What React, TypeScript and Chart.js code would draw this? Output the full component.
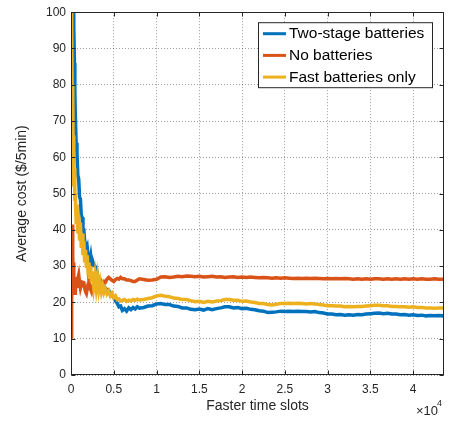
import React, { useEffect, useRef } from "react";
import { Chart, registerables } from "chart.js";

Chart.register(...registerables);

// Faster time slots (x values)
const slots = [
  0, 50, 100, 150, 200, 250, 300, 350, 400, 450,
  500, 600, 700, 800, 900, 1000, 1100, 1200, 1300, 1400, 1500, 1600, 1700, 1800, 1900, 2000, 2100, 2200, 2300, 2400, 2500,
  2650, 2800, 2950, 3100, 3250, 3400, 3550, 3700, 3850,
  4000, 4200, 4400, 4600, 4800, 5000, 5200, 5400, 5600, 5800, 6000,
  6250, 6500, 6750, 7000, 7250, 7500, 7750, 8000,
  8500, 9000, 9500, 10000, 10500, 11000, 11500, 12000, 12500, 13000,
  13500, 14000, 14500, 15000, 15500, 16000, 16500, 17000, 17500, 18000,
  18500, 19000, 19500, 20000, 20500, 21000, 21500, 22000, 22500, 23000,
  23500, 24000, 24500, 25000, 25500, 26000, 26500, 27000, 27500, 28000,
  28500, 29000, 29500, 30000, 30500, 31000, 31500, 32000, 32500, 33000,
  33500, 34000, 34500, 35000, 35500, 36000, 36500, 37000, 37500, 38000,
  38500, 39000, 39500, 40000, 40500, 41000, 41500, 42000, 42500, 43000,
  43500, 43600,
];

const twoStage = [
  175, 165, 150, 138, 125, 113, 104, 96, 86, 78,
  72, 64, 61, 55, 54, 49, 48.5, 44, 43.5, 40, 40, 36.8, 36.5, 34.2, 35, 32.5, 33.8, 31.5, 32.8, 30.6, 31.6,
  30.5, 30, 29.5, 27.5, 26, 26.3, 25.2, 24.8, 24.2,
  24, 23.5, 23.4, 22.6, 22, 21.3, 20.4, 19.8, 18.8, 19.0, 17.8,
  18.3, 17.6, 18.5, 18.0, 18.6, 18.2, 18.8, 18.4,
  18.6, 19.0, 19.1, 19.6, 19.7, 19.4, 19.4, 19.0, 18.9, 18.5,
  18.5, 18.1, 18.0, 18.2, 17.9, 18.3, 18.0, 18.3, 18.5, 18.8,
  18.8, 18.5, 18.6, 18.3, 18.4, 18.1, 18.0, 17.7, 17.6, 17.2,
  17.3, 17.4, 17.6, 17.5, 17.6, 17.5, 17.6, 17.5, 17.5, 17.4,
  17.5, 17.2, 17.1, 16.8, 16.8, 16.6, 16.7, 16.5, 16.6, 16.5,
  16.7, 16.6, 16.8, 16.9, 17.0, 17.1, 16.9, 17.0, 16.8, 16.8,
  16.6, 16.7, 16.5, 16.6, 16.4, 16.5, 16.3, 16.4, 16.3, 16.4,
  16.3, 16.4,
];

const noBatteries = [
  10.5, 11, 20, 41.5, 33, 28, 31, 24, 27, 22.5,
  22.5, 26.5, 24, 26.5, 27.6, 25.5, 24, 25, 24.6, 25.5, 25.4, 24, 23, 22.5, 23.8, 25, 25.5, 24.5, 23.6, 23, 24.2,
  25.2, 26, 25.6, 25, 25.3, 25.6, 25.2, 25.5, 25.8,
  25.5, 26.4, 26.9, 26.5, 26.1, 25.8, 26.3, 26.6, 26.4, 26.9, 26.5,
  26.5, 26.2, 26.2, 26.0, 25.8, 25.8, 26.2, 26.5,
  26.3, 26.1, 26.2, 26.4, 27.0, 27.1, 26.9, 27.0, 27.2, 27.1,
  27.3, 27.2, 27.1, 27.2, 27.0, 27.1, 27.2, 27.0, 27.1, 26.9,
  27.0, 27.1, 26.9, 27.0, 26.9, 27.0, 26.9, 26.8, 26.9, 26.8,
  26.7, 26.8, 26.7, 26.8, 26.7, 26.6, 26.7, 26.6, 26.7, 26.6,
  26.7, 26.6, 26.5, 26.6, 26.5, 26.6, 26.5, 26.6, 26.5, 26.4,
  26.5, 26.4, 26.5, 26.4, 26.5, 26.5, 26.4, 26.5, 26.4, 26.5,
  26.4, 26.5, 26.4, 26.5, 26.4, 26.5, 26.4, 26.4, 26.5, 26.4,
  26.4, 26.4,
];

const fastOnly = [
  118, 88, 97, 72, 80, 58, 66, 52, 57, 48,
  50, 42, 47, 39, 44, 37, 42, 35, 39, 33, 37, 31, 34.5, 29.5, 33, 28, 31, 26.5, 30, 25.5, 28.5,
  24.5, 27.5, 24, 27, 23.5, 25.5, 23, 24.5, 22.8,
  23.8, 22.4, 23.2, 21.8, 22.5, 21.3, 21.8, 20.8, 21.0, 20.4, 20.6,
  20.8, 20.3, 20.6, 20.4, 20.8, 20.6, 20.9, 20.7,
  20.8, 21.1, 21.3, 21.8, 22.0, 21.7, 21.6, 21.2, 21.1, 20.8,
  20.8, 20.5, 20.2, 20.3, 20.0, 20.3, 20.1, 20.4, 20.5, 20.8,
  20.8, 20.6, 20.6, 20.3, 20.4, 20.1, 20.0, 19.7, 19.7, 19.4,
  19.3, 19.5, 19.7, 19.7, 19.8, 19.7, 19.8, 19.7, 19.6, 19.7,
  19.6, 19.4, 19.3, 19.1, 19.1, 19.0, 19.0, 18.8, 18.9, 18.8,
  18.9, 18.9, 19.0, 19.1, 19.2, 19.2, 19.1, 19.1, 18.9, 18.9,
  18.8, 18.8, 18.7, 18.8, 18.6, 18.6, 18.5, 18.5, 18.4, 18.5,
  18.5, 18.5,
];

const xTicks = [0, 5000, 10000, 15000, 20000, 25000, 30000, 35000, 40000];
const yTicks = [0, 10, 20, 30, 40, 50, 60, 70, 80, 90, 100];
const xMax = 43600;
const seriesNames = ["Two-stage batteries", "No batteries", "Fast batteries only"];
const seriesColors = ["#0072BD", "#D95319", "#EDB120"];
const seriesValues = [twoStage, noBatteries, fastOnly];

const FONT = "'Liberation Sans', Arial, Helvetica, sans-serif";
const TEXT = "#262626";

const framePlugin = {
  id: "matlabFrame",
  afterDatasetsDraw(chart: any) {
    const { ctx, chartArea: a, scales } = chart;
    ctx.save();
    ctx.strokeStyle = TEXT;
    ctx.lineWidth = 1;
    const L = Math.round(a.left) + 0.5;
    const R = Math.round(a.right) - 0.5;
    const T = Math.round(a.top) + 0.5;
    const B = Math.round(a.bottom) - 0.5;
    ctx.strokeRect(L, T, R - L, B - T);
    const tl = 4;
    ctx.beginPath();
    for (const v of xTicks) {
      const px = Math.round(scales.x.getPixelForValue(v)) + 0.5;
      ctx.moveTo(px, B);
      ctx.lineTo(px, B - tl);
      ctx.moveTo(px, T);
      ctx.lineTo(px, T + tl);
    }
    for (const v of yTicks) {
      const py = Math.round(scales.y.getPixelForValue(v)) + 0.5;
      ctx.moveTo(L, py);
      ctx.lineTo(L + tl, py);
      ctx.moveTo(R, py);
      ctx.lineTo(R - tl, py);
    }
    ctx.stroke();

    // exponent label
    ctx.fillStyle = TEXT;
    ctx.textBaseline = "alphabetic";
    ctx.textAlign = "left";
    ctx.font = `13px ${FONT}`;
    ctx.fillText("\u00d710", a.right - 28, a.bottom + 40);
    ctx.font = `9px ${FONT}`;
    ctx.fillText("4", a.right - 7, a.bottom + 31);

    // legend
    const lx = a.right - 186;
    const ly = a.top + 10;
    const lw = 175;
    const lh = 66;
    ctx.fillStyle = "#ffffff";
    ctx.fillRect(lx, ly, lw, lh);
    ctx.strokeStyle = TEXT;
    ctx.lineWidth = 1;
    ctx.strokeRect(lx + 0.5, ly + 0.5, lw - 1, lh - 1);
    ctx.font = `15.5px ${FONT}`;
    ctx.textBaseline = "middle";
    seriesNames.forEach((name, i) => {
      const cy = ly + 11.5 + i * 21.7;
      ctx.strokeStyle = seriesColors[i];
      ctx.lineWidth = 3;
      ctx.beginPath();
      ctx.moveTo(lx + 5, cy);
      ctx.lineTo(lx + 28, cy);
      ctx.stroke();
      ctx.fillStyle = "#000000";
      ctx.fillText(name, lx + 31, cy + 0.5);
    });
    ctx.restore();
  },
};

export default function App() {
  const ref = useRef<HTMLCanvasElement | null>(null);
  useEffect(() => {
    if (!ref.current) return;
    const datasets = seriesValues.map((vals, i) => ({
      label: seriesNames[i],
      data: slots.map((x, j) => ({ x, y: vals[j] })),
      borderColor: seriesColors[i],
      backgroundColor: seriesColors[i],
      borderWidth: 3.5,
      pointRadius: 0,
      tension: 0,
      fill: false,
      order: 3 - i,
    }));
    const gridStyle = {
      color: "rgba(38,38,38,0.45)",
      lineWidth: 1,
      drawTicks: false,
    };
    const chart = new Chart(ref.current, {
      type: "line",
      data: { datasets },
      options: {
        animation: false,
        responsive: false,
        devicePixelRatio: 1,
        layout: { padding: { top: 3, right: 5, left: 0, bottom: 0 } },
        plugins: { legend: { display: false }, tooltip: { enabled: false } },
        scales: {
          x: {
            type: "linear",
            min: 0,
            max: xMax,
            afterFit: (s: any) => {
              s.height = 46;
            },
            afterBuildTicks: (s: any) => {
              s.ticks = xTicks.map((v) => ({ value: v }));
            },
            grid: gridStyle,
            border: { display: false, dash: [1, 2] },
            ticks: {
              color: TEXT,
              font: { family: FONT, size: 12 },
              padding: 7,
              maxRotation: 0,
              callback: (v: any) => String(Number(v) / 10000),
            },
            title: {
              display: true,
              text: "Faster time slots",
              color: TEXT,
              font: { family: FONT, size: 14 },
              padding: { top: 0, bottom: 6 },
            },
          },
          y: {
            type: "linear",
            min: 0,
            max: 100,
            afterFit: (s: any) => {
              s.width = 71;
            },
            afterBuildTicks: (s: any) => {
              s.ticks = yTicks.map((v) => ({ value: v }));
            },
            grid: gridStyle,
            border: { display: false, dash: [1, 2] },
            ticks: {
              color: TEXT,
              font: { family: FONT, size: 12 },
              padding: 5,
            },
            title: {
              display: true,
              text: "Average cost ($/5min)",
              color: TEXT,
              font: { family: FONT, size: 14 },
              padding: { top: 14, bottom: 0 },
            },
          },
        },
      },
      plugins: [framePlugin],
    });
    return () => chart.destroy();
  }, []);
  return (
    <div style={{ position: "fixed", left: 0, top: 0, width: 449, height: 421, background: "#fff" }}>
      <canvas ref={ref} width={449} height={421} style={{ width: 449, height: 421, display: "block" }} />
    </div>
  );
}
